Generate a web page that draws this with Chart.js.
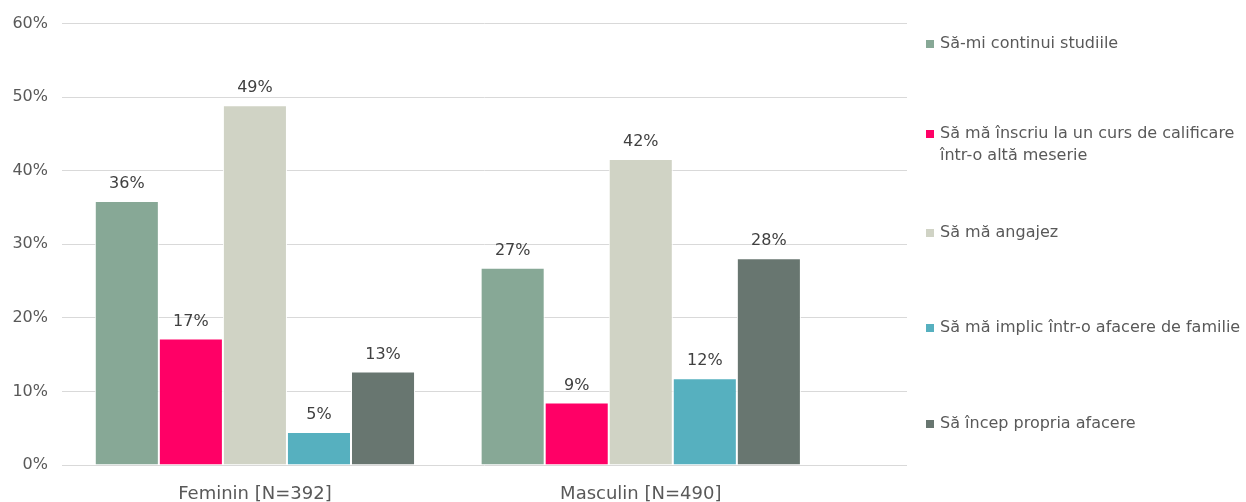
<!DOCTYPE html>
<html>
<head>
<meta charset="utf-8">
<script src="https://cdn.jsdelivr.net/npm/chart.js@4"></script>
<style>
  body { margin: 0; background: #fff; font-family: "DejaVu Sans", sans-serif; }
  #wrap { position: relative; width: 1246px; height: 502px; }
  #legend { position: absolute; left: 926px; top: 32px; color: #595959; font-size: 16px; line-height: 22px; }
  .item { display: flex; align-items: flex-start; }
  .item span.box { width: 8px; height: 8px; margin-top: 8px; margin-right: 6px; flex: none; }
  .item:nth-child(2) { margin-top: 68px; }
  .item:nth-child(3) { margin-top: 55px; }
  .item:nth-child(4) { margin-top: 73px; }
  .item:nth-child(5) { margin-top: 74px; }
</style>
</head>
<body>
<div id="wrap">
  <canvas id="chart" width="1246" height="502"></canvas>
  <div id="legend"></div>
</div>
<script>
// chart data
const categories = ['Feminin [N=392]', 'Masculin [N=490]'];
const seriesNames = [
    'Să-mi continui studiile',
    'Să mă înscriu la un curs de calificare<br>într-o altă meserie',
    'Să mă angajez',
    'Să mă implic într-o afacere de familie',
    'Să încep propria afacere'
];
const seriesColors = ['#87A896', '#FF0066', '#D0D3C5', '#56B0BF', '#687670'];
const continuiStudiile = [35.9, 26.8];
const cursCalificare = [17.2, 8.5];
const angajez = [48.9, 41.6];
const afacereFamilie = [4.5, 11.8];
const propriaAfacere = [12.7, 28.1];
const yTicks = [0, 10, 20, 30, 40, 50, 60];

const seriesValues = [continuiStudiile, cursCalificare, angajez, afacereFamilie, propriaAfacere];

// html legend
var legend = document.getElementById('legend');
seriesNames.forEach(function (name, i) {
    var div = document.createElement('div');
    div.className = 'item';
    div.innerHTML = '<span class="box" style="background:' + seriesColors[i] + '"></span><span>' + name + '</span>';
    legend.appendChild(div);
});

// value labels above the bars
const barLabels = {
    id: 'barLabels',
    afterDatasetsDraw(chart) {
        const ctx = chart.ctx;
        ctx.save();
        ctx.font = '16px "DejaVu Sans"';
        ctx.fillStyle = '#404040';
        ctx.textAlign = 'center';
        ctx.textBaseline = 'bottom';
        chart.data.datasets.forEach(function (ds, i) {
            chart.getDatasetMeta(i).data.forEach(function (bar, j) {
                ctx.fillText(Math.round(ds.data[j].y) + '%', bar.x, bar.y - 9);
            });
        });
        ctx.restore();
    }
};

new Chart(document.getElementById('chart'), {
    type: 'bar',
    data: {
        datasets: seriesValues.map(function (vals, i) {
            return {
                label: seriesNames[i],
                data: vals.map(function (v, j) { return { x: j + 0.5, y: v }; }),
                backgroundColor: seriesColors[i],
                borderColor: '#ffffff',
                borderWidth: 1,
                categoryPercentage: 0.83,
                barPercentage: 1.0
            };
        })
    },
    options: {
        responsive: false,
        animation: false,
        layout: { padding: { top: 14, right: 339, left: 0, bottom: 0 } },
        plugins: {
            legend: { display: false },
            tooltip: { enabled: false }
        },
        scales: {
            x: {
                type: 'linear',
                min: 0,
                max: 2.19,
                offset: false,
                grid: { display: false },
                border: { display: false },
                afterBuildTicks: function (axis) {
                    axis.ticks = categories.map(function (c, i) { return { value: i + 0.5 }; });
                },
                afterFit: function (axis) { axis.height = 37; },
                ticks: {
                    padding: 11,
                    color: '#595959',
                    font: { family: 'DejaVu Sans', size: 18 },
                    callback: function (v) { return categories[Math.round(v - 0.5)]; }
                }
            },
            y: {
                min: 0,
                max: 60,
                afterBuildTicks: function (axis) {
                    axis.ticks = yTicks.map(function (t) { return { value: t }; });
                },
                afterFit: function (axis) { axis.width = 62; },
                grid: { color: '#D9D9D9', drawTicks: false },
                border: { display: false },
                ticks: {
                    padding: 14,
                    color: '#595959',
                    font: { family: 'DejaVu Sans', size: 16 },
                    callback: function (v) { return v + '%'; }
                }
            }
        }
    },
    plugins: [barLabels]
});
</script>
</body>
</html>
